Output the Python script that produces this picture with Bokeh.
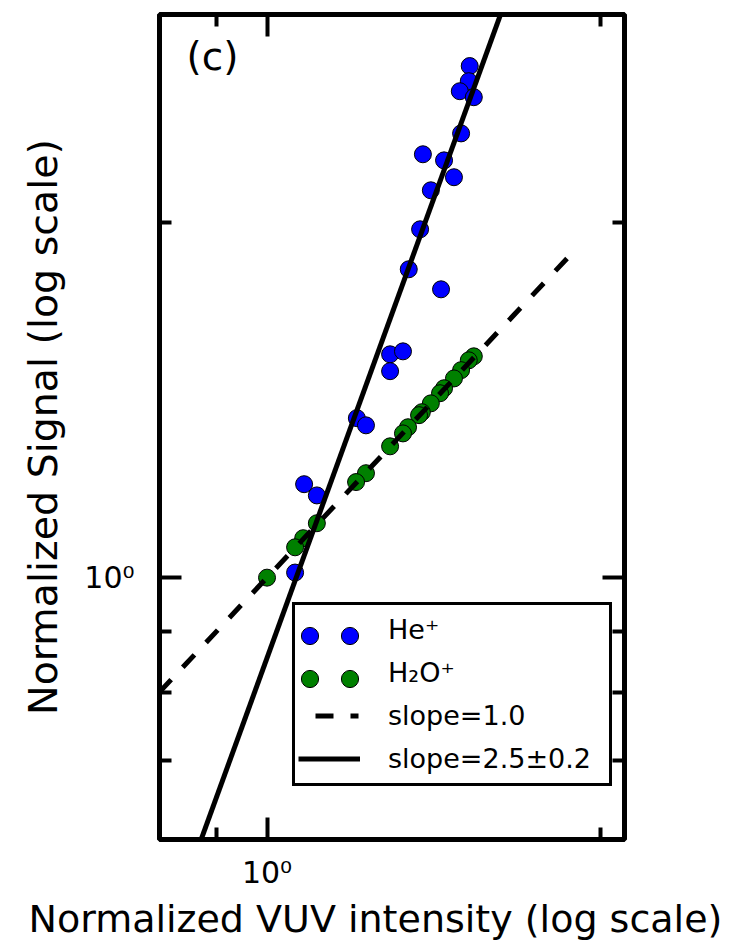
from bokeh.plotting import figure
from bokeh.models import FixedTicker, LogAxis, Legend, LegendItem, Label, Range1d, Title
from bokeh.embed import file_html
from bokeh.resources import INLINE

# ---- data ----
x_limits = [0.8, 2.1]
y_limits = [0.6, 3.0]

he_x = [1.523, 1.520, 1.492, 1.536, 1.496, 1.382, 1.444, 1.474, 1.405, 1.374,
        1.342, 1.435, 1.291, 1.326, 1.291, 1.205, 1.228, 1.080, 1.109, 1.060]
he_y = [2.713, 2.634, 2.583, 2.553, 2.379, 2.284, 2.257, 2.184, 2.129, 1.973,
        1.825, 1.755, 1.546, 1.555, 1.496, 1.365, 1.346, 1.200, 1.174, 1.010]

h2o_x = [1.536, 1.520, 1.496, 1.474, 1.444, 1.432, 1.405, 1.379, 1.371, 1.340,
         1.326, 1.291, 1.228, 1.203, 1.109, 1.078, 1.060, 1.000]
h2o_y = [1.540, 1.528, 1.499, 1.475, 1.447, 1.433, 1.405, 1.381, 1.373, 1.341,
         1.325, 1.292, 1.226, 1.205, 1.112, 1.080, 1.061, 1.000]

slope1_x = [0.8, 1.88]
slope1_y = [0.8, 1.88]

fit_slope = 2.59
fit_x_at_one = 1.0624
fit_x = [0.8, 2.1]
fit_y = [(v / fit_x_at_one) ** fit_slope for v in fit_x]

x_major = [1.0]
x_minor = [0.8, 0.9, 2.0]
y_major = [1.0]
y_minor = [0.6, 0.7, 0.8, 0.9, 2.0, 3.0]
tick_label = {1: "10\u2070"}

labels = ["He\u207a", "H\u2082O\u207a", "slope=1.0", "slope=2.5\u00b10.2"]
x_title = "Normalized VUV intensity (log scale)"
y_title = "Normalized Signal (log scale)"
panel_tag = "(c)"

FONT = "DejaVu Sans"
NAN = float("nan")

p = figure(x_axis_type="log", y_axis_type="log",
           x_range=Range1d(*x_limits), y_range=Range1d(*y_limits),
           frame_width=465, frame_height=825,
           min_border_left=159, min_border_right=109,
           min_border_top=14, min_border_bottom=101,
           output_backend="svg", toolbar_location=None)
p.grid.visible = False
p.outline_line_color = "black"
p.outline_line_width = 5
p.outline_line_alpha = 1.0
p.background_fill_color = "white"
p.border_fill_color = "white"

r_he = p.scatter(he_x, he_y, size=17, fill_color="#0000ff", line_color="black", line_width=1)
r_h2o = p.scatter(h2o_x, h2o_y, size=17, fill_color="#008000", line_color="black", line_width=1)
r_dash = p.line(slope1_x, slope1_y, line_color="black", line_width=5, line_dash="17 17")
r_fit = p.line(fit_x, fit_y, line_color="black", line_width=5)

# legend-only stand-ins (NaN data: nothing drawn in the plot)
dummy_he = p.scatter(x=[NAN], y=[NAN], size=1, fill_alpha=0, line_alpha=0)
dummy_h2o = p.scatter(x=[NAN], y=[NAN], size=1, fill_alpha=0, line_alpha=0)
dummy_dash = p.line(x=[NAN, NAN], y=[NAN, NAN], line_color="black", line_width=5,
                    line_dash="0 17 18 17 8 100")


def style_axis(ax, major, minor, overrides, label_size):
    ax.ticker = FixedTicker(ticks=major, minor_ticks=minor)
    ax.axis_line_color = None
    ax.major_tick_in = 22
    ax.major_tick_out = 0
    ax.minor_tick_in = 12
    ax.minor_tick_out = 0
    ax.major_tick_line_width = 4
    ax.minor_tick_line_width = 4
    ax.major_tick_line_color = "black"
    ax.minor_tick_line_color = "black"
    ax.major_label_overrides = overrides
    ax.major_label_text_font = FONT
    ax.major_label_text_font_size = label_size
    ax.major_label_text_color = "black"
    ax.axis_label_text_font = FONT
    ax.axis_label_text_font_style = "normal"
    ax.axis_label_text_font_size = "39.5px"
    ax.axis_label_text_color = "black"


xa = p.below[0]
ya = p.left[0]
style_axis(xa, x_major, x_minor, tick_label, "30px")
style_axis(ya, y_major, y_minor, tick_label, "30px")
ya.axis_label = y_title
xa.major_label_standoff = 15
ya.major_label_standoff = 25
ya.axis_label_standoff = 15
ya.major_label_orientation = "horizontal"

top_ax = LogAxis()
right_ax = LogAxis()
style_axis(top_ax, x_major, x_minor, {1: ""}, "1px")
style_axis(right_ax, y_major, y_minor, {1: ""}, "1px")
top_ax.major_label_standoff = 0
right_ax.major_label_standoff = 0
p.add_layout(top_ax, "above")
p.add_layout(right_ax, "right")

# x-axis title, left-aligned like the reference so that it fits the page
p.add_layout(Title(text=x_title, align="left", offset=-131, standoff=4,
                   text_font=FONT, text_font_size="38px", text_font_style="normal",
                   text_color="black"), "below")

p.add_layout(Label(x=x_limits[0], y=y_limits[1], x_offset=27, y_offset=-19,
                   text=panel_tag, text_baseline="top", text_font=FONT,
                   text_font_size="39px", text_color="black"))

leg_main = Legend(
    items=[LegendItem(label=labels[0], renderers=[dummy_he]),
           LegendItem(label=labels[1], renderers=[dummy_h2o]),
           LegendItem(label=labels[2], renderers=[dummy_dash]),
           LegendItem(label=labels[3], renderers=[r_fit])],
    location=(133, 53), padding=3, spacing=0, margin=0,
    glyph_width=62, glyph_height=43, label_height=43, label_width=218,
    label_standoff=28, border_line_color="black", border_line_width=3,
    border_line_alpha=1.0,
    background_fill_color="white", background_fill_alpha=1.0,
    label_text_font=FONT, label_text_font_size="27px", label_text_color="black")
p.add_layout(leg_main)

for vx in (128.5, 168.5):
    leg = Legend(
        items=[LegendItem(label="", renderers=[r_he]),
               LegendItem(label="", renderers=[r_h2o])],
        location=(vx, 53 + 86), padding=3, spacing=0, margin=0,
        glyph_width=43, glyph_height=43, label_height=43, label_width=0,
        label_standoff=0, border_line_color=None, background_fill_alpha=0,
        label_text_font=FONT, label_text_font_size="27px")
    p.add_layout(leg)

open("out.html", "w").write(file_html(p, INLINE))
